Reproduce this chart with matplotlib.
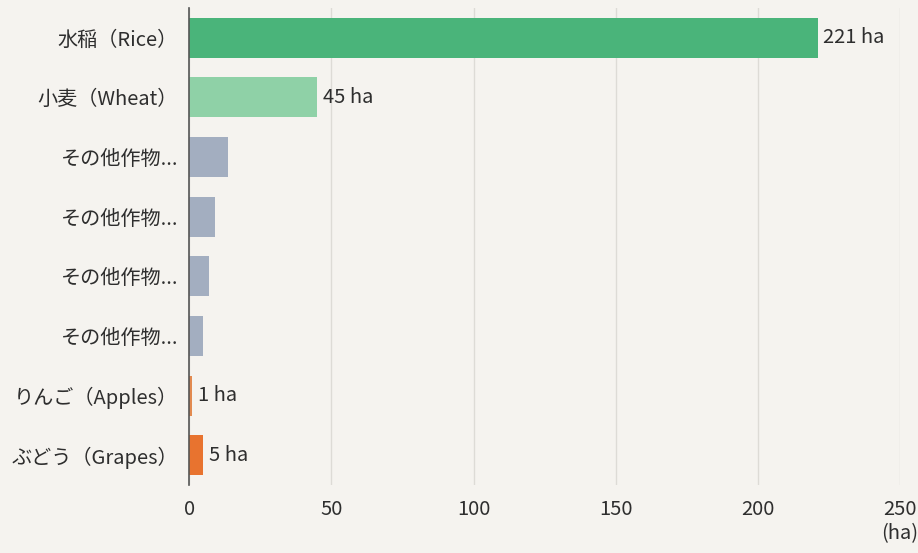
import matplotlib
matplotlib.use("Agg")
import matplotlib.pyplot as plt

plt.rcParams['font.family'] = ['Noto Sans CJK JP', 'DejaVu Sans']

# Planted area by crop (hectares)
crops = ["水稲（Rice）", "小麦（Wheat）", "その他作物...", "その他作物...",
         "その他作物...", "その他作物...", "りんご（Apples）", "ぶどう（Grapes）"]
areas = [221, 45, 13.5, 9, 7, 5, 1, 5]
value_labels = ["221 ha", "45 ha", None, None, None, None, "1 ha", "5 ha"]
bar_colors = ["#4ab47a", "#8fd1a7", "#a3aec0", "#a3aec0",
              "#a3aec0", "#a3aec0", "#e28a50", "#e8732f"]
x_ticks = [0, 50, 100, 150, 200, 250]

bg = "#f5f3ef"
text_color = "#2e2e2e"
fig = plt.figure(figsize=(9.18, 5.53), dpi=100, facecolor=bg)
ax = fig.add_axes([0.206, 0.123, 0.7745, 0.8625], facecolor=bg)

ypos = list(range(len(crops)))
ax.barh(ypos, areas, height=0.67, color=bar_colors, zorder=3)

for y, v, lab in zip(ypos, areas, value_labels):
    if lab:
        ax.annotate(lab, xy=(v, y), xytext=(4, 0), textcoords="offset points",
                    va="center", ha="left", fontsize=14.5, color=text_color)

ax.set_xlim(0, 250)
ax.set_ylim(len(crops) - 0.5, -0.5)
ax.set_yticks(ypos)
ax.set_yticklabels(crops)
ax.set_xticks(x_ticks)
ax.tick_params(axis="both", length=0, labelsize=14.5, labelcolor=text_color)
ax.tick_params(axis="y", pad=8)
ax.tick_params(axis="x", pad=10)

ax.grid(axis="x", color="#dddbd6", linewidth=1, zorder=0)
for side in ["top", "right", "bottom"]:
    ax.spines[side].set_visible(False)
ax.spines["left"].set_color("#555555")
ax.spines["left"].set_linewidth(1.2)
ax.spines["left"].set_zorder(4)

ax.text(1.0, -0.08, "(ha)", transform=ax.transAxes, ha="center", va="top",
        fontsize=14.5, color=text_color)

fig.savefig("out.png", dpi=100, facecolor=bg)
